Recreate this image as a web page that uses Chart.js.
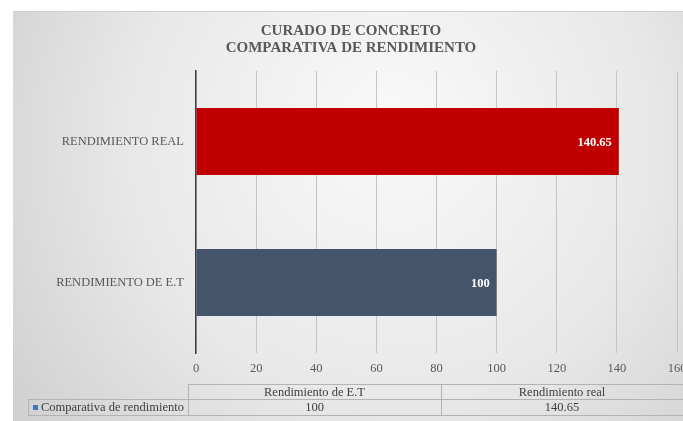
<!DOCTYPE html>
<html>
<head>
<meta charset="utf-8">
<script src="https://cdn.jsdelivr.net/npm/chart.js@4"></script>
<style>
html,body{margin:0;padding:0;background:#fff;}
#wrap{width:683px;height:421px;position:relative;}
</style>
</head>
<body>
<div id="wrap"><canvas id="c" width="683" height="421"></canvas></div>
<script>
// ---- data ----
const titleLines = ['CURADO DE CONCRETO', 'COMPARATIVA DE RENDIMIENTO'];
const categories = ['Rendimiento de E.T', 'Rendimiento real'];
const values = [100, 140.65];
const valueLabels = ['100', '140.65'];
const seriesName = 'Comparativa de rendimiento';
const barColors = ['#44546A', '#C00000'];
const xTicks = [0, 20, 40, 60, 80, 100, 120, 140, 160];

const FONT = '"Liberation Serif", "Times New Roman", serif';

const bgPlugin = {
  id: 'bg',
  beforeDraw(chart) {
    const ctx = chart.ctx;
    ctx.save();
    ctx.fillStyle = '#ffffff';
    ctx.fillRect(0, 0, 683, 421);
    const g = ctx.createRadialGradient(390, 120, 20, 390, 160, 460);
    g.addColorStop(0, '#f8f8f8');
    g.addColorStop(0.55, '#e8e8e8');
    g.addColorStop(1, '#cfcfcf');
    ctx.fillStyle = g;
    ctx.fillRect(13, 11, 670, 410);
    ctx.strokeStyle = '#d0d0d0';
    ctx.lineWidth = 1;
    ctx.beginPath();
    ctx.moveTo(13, 11.5); ctx.lineTo(683, 11.5);
    ctx.stroke();
    // title
    ctx.fillStyle = '#595959';
    ctx.font = 'bold 15px ' + FONT;
    ctx.textAlign = 'center';
    ctx.textBaseline = 'middle';
    ctx.fillText(titleLines[0], 351, 31);
    ctx.fillText(titleLines[1], 351, 48);
    ctx.restore();
  },
  afterDraw(chart) {
    const ctx = chart.ctx;
    const meta = chart.getDatasetMeta(0);
    ctx.save();
    // value labels inside bars
    ctx.fillStyle = '#ffffff';
    ctx.font = 'bold 12.5px ' + FONT;
    ctx.textAlign = 'right';
    ctx.textBaseline = 'middle';
    meta.data.forEach((bar, i) => {
      ctx.fillText(valueLabels[i], bar.x - 7, bar.y + 1);
    });
    // data table
    const colEdges = [188, 441, 683];
    const rowTop = 384, rowMid = 399, rowBot = 415;
    ctx.strokeStyle = '#b3b3b3';
    ctx.lineWidth = 1;
    ctx.beginPath();
    ctx.moveTo(colEdges[0], rowTop + 0.5); ctx.lineTo(683, rowTop + 0.5);
    ctx.moveTo(28, rowMid + 0.5); ctx.lineTo(683, rowMid + 0.5);
    ctx.moveTo(28, rowBot + 0.5); ctx.lineTo(683, rowBot + 0.5);
    ctx.moveTo(28.5, rowMid); ctx.lineTo(28.5, rowBot);
    colEdges.slice(0, 2).forEach(x => { ctx.moveTo(x + 0.5, rowTop); ctx.lineTo(x + 0.5, rowBot); });
    ctx.stroke();
    ctx.fillStyle = '#404040';
    ctx.font = '12.5px ' + FONT;
    ctx.textAlign = 'center';
    for (let i = 0; i < categories.length; i++) {
      const cx = (colEdges[i] + colEdges[i + 1]) / 2;
      ctx.fillText(categories[i], cx, (rowTop + rowMid) / 2 + 1);
      ctx.fillText(String(values[i]), cx, (rowMid + rowBot) / 2 + 1);
    }
    ctx.fillStyle = '#4472C4';
    ctx.fillRect(33, 405, 5, 5);
    ctx.fillStyle = '#404040';
    ctx.textAlign = 'left';
    ctx.fillText(seriesName, 41, (rowMid + rowBot) / 2 + 1);
    ctx.restore();
  }
};

new Chart(document.getElementById('c'), {
  type: 'bar',
  data: {
    labels: categories,
    datasets: [{
      label: seriesName,
      data: values,
      backgroundColor: barColors,
      borderWidth: 0,
      barPercentage: 0.475,
      categoryPercentage: 1
    }]
  },
  options: {
    indexAxis: 'y',
    responsive: false,
    animation: false,
    devicePixelRatio: 1,
    layout: { padding: { left: 0, right: 6, top: 71, bottom: 0 } },
    plugins: {
      legend: { display: false },
      tooltip: { enabled: false },
      title: { display: false }
    },
    scales: {
      x: {
        min: 0, max: 160,
        afterBuildTicks(scale) { scale.ticks = xTicks.map(v => ({ value: v })); },
        afterFit(scale) { scale.height = 68; scale.paddingRight = 0; scale.paddingLeft = 0; },
        grid: { color: '#c4c4c4', lineWidth: 1, drawTicks: false },
        border: { display: false },
        ticks: { color: '#595959', font: { family: FONT, size: 12.5 }, padding: 8 }
      },
      y: {
        reverse: true,
        afterFit(scale) { scale.width = 196; },
        grid: { display: false, drawTicks: false },
        border: { display: true, color: '#404040', width: 1.5 },
        ticks: {
          color: '#595959',
          font: { family: FONT, size: 12.5 },
          padding: 12,
          callback(v) { return categories[v].toUpperCase(); }
        }
      }
    }
  },
  plugins: [bgPlugin]
});
</script>
</body>
</html>
